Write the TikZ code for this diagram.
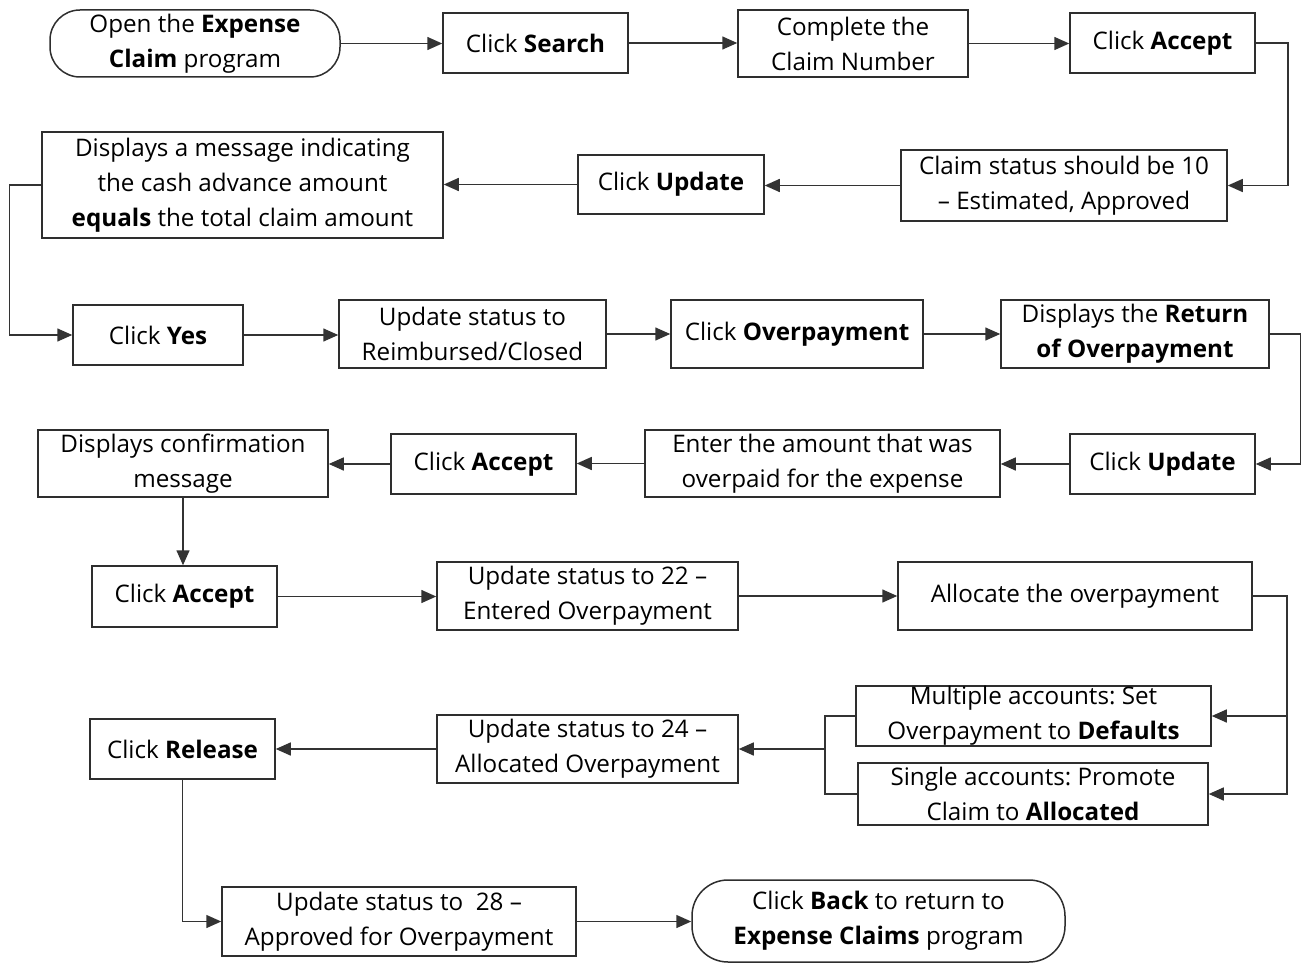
\documentclass[tikz,border=0pt]{standalone}
\usepackage{fontspec}
\setmainfont{Open Sans}
\usetikzlibrary{arrows.meta}
\frenchspacing
\begin{document}
\begin{tikzpicture}[x=1pt,y=-1pt,
  box/.style={draw=black!82, line width=1.5pt, inner sep=0pt, align=center,
    font=\fontsize{24.2}{35}\selectfont},
  term/.style={box, rounded corners=30pt},
  link/.style={draw=black!80, line width=1.5pt},
  flow/.style={link, -{Triangle[length=15pt,width=13pt]}}]
\useasboundingbox (0,0) rectangle (1301,963);

% row 1
\node[term, minimum width=290pt, minimum height=67pt] (open) at (195,43.5) {Open the \textbf{Expense}\\\textbf{Claim} program};
\node[box, minimum width=185pt, minimum height=60pt] (search) at (535.5,43) {Click \textbf{Search}};
\node[box, minimum width=230pt, minimum height=67pt] (complete) at (853,43.5) {Complete the\\Claim Number};
\node[box, minimum width=185pt, minimum height=60pt] (accepta) at (1162.5,43) {Click \textbf{Accept}};

% row 2
\node[box, minimum width=326pt, minimum height=71pt] (claim) at (1064,185.5) {Claim status should be 10\\– Estimated, Approved};
\node[box, minimum width=186pt, minimum height=59pt] (updatea) at (671,184.5) {Click \textbf{Update}};
\node[box, minimum width=401pt, minimum height=106pt] (cashmsg) at (242.5,185) {Displays a message indicating\\the cash advance amount\\\textbf{equals} the total claim amount};

% row 3
\node[box, minimum width=170pt, minimum height=60pt] (yes) at (158,335) {Click \textbf{Yes}};
\node[box, minimum width=267pt, minimum height=68pt] (reimb) at (472.5,334) {Update status to\\Reimbursed/Closed};
\node[box, minimum width=252pt, minimum height=68pt] (overp) at (797,334) {Click \textbf{Overpayment}};
\node[box, minimum width=268pt, minimum height=68pt] (retover) at (1135,334) {Displays the \textbf{Return}\\\textbf{of Overpayment}};

% row 4
\node[box, minimum width=185pt, minimum height=60pt] (updateb) at (1162.5,464) {Click \textbf{Update}};
\node[box, minimum width=355pt, minimum height=67pt] (enter) at (822.5,463.5) {Enter the amount that was\\overpaid for the expense};
\node[box, minimum width=185pt, minimum height=60pt] (acceptb) at (483.5,464) {Click \textbf{Accept}};
\node[box, minimum width=290pt, minimum height=67pt] (confirm) at (183,463.5) {Displays confirmation\\message};

% row 5
\node[box, minimum width=185pt, minimum height=61pt] (acceptc) at (184.5,596.5) {Click \textbf{Accept}};
\node[box, minimum width=301pt, minimum height=68pt] (stattw) at (587.5,596) {Update status to 22 –\\Entered Overpayment};
\node[box, minimum width=354pt, minimum height=68pt] (alloc) at (1075,596) {Allocate the overpayment};

% row 6
\node[box, minimum width=355pt, minimum height=60pt] (multi) at (1033.5,716) {Multiple accounts: Set\\Overpayment to \textbf{Defaults}};
\node[box, minimum width=350pt, minimum height=62pt] (single) at (1033,794) {Single accounts: Promote\\Claim to \textbf{Allocated}};
\node[box, minimum width=301pt, minimum height=68pt] (stattf) at (587.5,749) {Update status to 24 –\\Allocated Overpayment};
\node[box, minimum width=185pt, minimum height=60pt] (release) at (182.5,749) {Click \textbf{Release}};

% row 7
\node[box, minimum width=354pt, minimum height=69pt] (statte) at (399,921.5) {Update status to~~28 –\\Approved for Overpayment};
\node[term, minimum width=373pt, minimum height=82pt, rounded corners=36pt] (back) at (878.5,921) {Click \textbf{Back} to return to\\\textbf{Expense Claims} program};

% connectors
\draw[flow] (open.east) -- (open.east -| search.west);
\draw[flow] (search.east) -- (search.east -| complete.west);
\draw[flow] (complete.east) -- (complete.east -| accepta.west);
\draw[flow] (accepta.east) -- ++(32,0) |- (claim.east);
\draw[flow] (claim.west) -- (claim.west -| updatea.east);
\draw[flow] (updatea.west) -- (updatea.west -| cashmsg.east);
\draw[flow] (cashmsg.west) -- ++(-32,0) |- (yes.west);
\draw[flow] (yes.east) -- (yes.east -| reimb.west);
\draw[flow] (reimb.east) -- (reimb.east -| overp.west);
\draw[flow] (overp.east) -- (overp.east -| retover.west);
\draw[flow] (retover.east) -- ++(31,0) |- (updateb.east);
\draw[flow] (updateb.west) -- (updateb.west -| enter.east);
\draw[flow] (enter.west) -- (enter.west -| acceptb.east);
\draw[flow] (acceptb.west) -- (acceptb.west -| confirm.east);
\draw[flow] (confirm.south) -- (confirm.south |- acceptc.north);
\draw[flow] (acceptc.east) -- (acceptc.east -| stattw.west);
\draw[flow] (stattw.east) -- (stattw.east -| alloc.west);
\draw[flow] (alloc.east) -- ++(34,0) coordinate (split) |- (multi.east);
\draw[flow] (split) |- (single.east);
\coordinate (merge) at (825,749);
\draw[link] (multi.west) -| (merge);
\draw[link] (single.west) -| (merge);
\draw[flow] (merge) -- (stattf.east);
\draw[flow] (stattf.west) -- (stattf.west -| release.east);
\draw[flow] (release.south) |- (statte.west);
\draw[flow] (statte.east) -- (statte.east -| back.west);
\end{tikzpicture}
\end{document}
